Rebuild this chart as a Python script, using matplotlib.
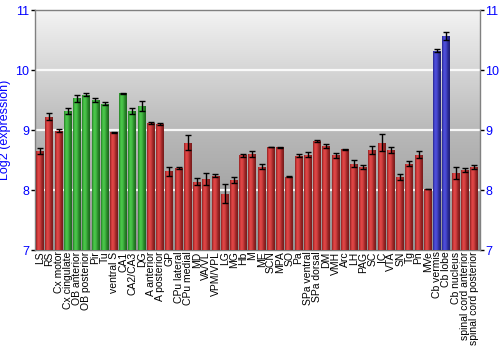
import numpy as np
import matplotlib
matplotlib.use("Agg")
import matplotlib.pyplot as plt
from matplotlib.colors import LinearSegmentedColormap, to_rgb

plt.rcParams['font.family'] = ['Liberation Sans', 'DejaVu Sans']

# ── data ─────────────────────────────────────────────
regions = ["LS", "RS", "Cx motor", "Cx cingulate", "OB anterior", "OB posterior",
           "Pir", "Tu", "ventral S", "CA1", "CA2/CA3", "DG", "A anterior",
           "A posterior", "GP", "CPu lateral", "CPu medial", "MD", "VA/VL",
           "VPM/VPL", "LG", "MG", "Hb", "M", "ME", "SCN", "MPA", "SO", "Pa",
           "SPa ventral", "SPa dorsal", "DM", "VMH", "Arc", "LH", "PAG", "SC",
           "IC", "VTA", "SN", "Tg", "Pn", "MVe", "Cb vermis", "Cb lobe",
           "Cb nucleus", "spinal cord anterior", "spinal cord posterior"]
expression = [8.65, 9.22, 8.99, 9.32, 9.53, 9.59, 9.50, 9.44, 8.96, 9.61,
              9.32, 9.40, 9.11, 9.10, 8.31, 8.36, 8.79, 8.14, 8.19, 8.24,
              7.94, 8.16, 8.58, 8.60, 8.39, 8.72, 8.71, 8.22, 8.57, 8.59,
              8.82, 8.73, 8.58, 8.68, 8.44, 8.38, 8.67, 8.79, 8.67, 8.22,
              8.44, 8.59, 8.02, 10.32, 10.57, 8.29, 8.33, 8.39]
errors = [0.05, 0.06, 0.03, 0.05, 0.055, 0.03, 0.03, 0.02, 0.015, 0.005,
          0.05, 0.08, 0.017, 0.02, 0.07, 0.017, 0.125, 0.064, 0.10, 0.022,
          0.16, 0.05, 0.028, 0.05, 0.04, 0.005, 0.005, 0.01, 0.025, 0.047,
          0.015, 0.033, 0.045, 0.01, 0.06, 0.033, 0.064, 0.147, 0.055, 0.055,
          0.04, 0.06, 0.005, 0.025, 0.07, 0.10, 0.033, 0.033]
# r = red, g = green, b = blue
groups = list("rrrggggg" "rggg" "rrrrr" "rrrrrrrrrrrrrrrrrrrrrrrrrr" "bb" "rrr")

colors = {'r': '#b52b2b', 'g': '#2f9e2f', 'b': '#3232b0'}

# ── plot ─────────────────────────────────────────────
fig = plt.figure(figsize=(5, 3.5), dpi=100)
ax = fig.add_axes([0.07, 0.2857, 0.89, 0.6857])

x = np.arange(len(regions))

# background gradient
bg = np.linspace(0, 1, 256).reshape(-1, 1)
bg_cmap = LinearSegmentedColormap.from_list('bg', ['#f3f3f3', '#b9b9b9', '#929292'])
ax.imshow(bg, cmap=bg_cmap, aspect='auto', extent=[0, 1, 0, 1],
          transform=ax.transAxes, zorder=0)

for yv in [8, 9, 10]:
    ax.axhline(yv, color='white', linewidth=1.6, alpha=0.9, zorder=1)

bars = ax.bar(x, np.array(expression) - 7, bottom=7, width=0.86,
              color=[colors[g] for g in groups], zorder=2, linewidth=0)

# cylinder-like shading on each bar
shade = np.array([0.8, 1.15, 1.05, 0.85, 0.65])
for b, g in zip(bars, groups):
    base = np.array(to_rgb(colors[g]))
    cols = [tuple(np.clip(base * s + (0.08 if s > 1 else 0), 0, 1)) for s in shade]
    cm = LinearSegmentedColormap.from_list('s', cols)
    x0, y0 = b.get_x(), b.get_y()
    im = ax.imshow(np.linspace(0, 1, 64).reshape(1, -1), cmap=cm, aspect='auto',
                   extent=[x0, x0 + b.get_width(), y0, y0 + b.get_height()],
                   zorder=3)
    im.set_clip_path(b)

ax.errorbar(x, expression, yerr=errors, fmt='none', ecolor='black',
            elinewidth=1, capsize=2, capthick=1, zorder=4)

ax.set_xlim(-0.55, 47.65)
ax.set_ylim(7, 11)
ax.set_yticks([7, 8, 9, 10, 11])
ax.set_xticks(x)
ax.set_xticklabels(regions, rotation=90, fontsize=7.5)
ax.tick_params(axis='x', length=0, pad=1)
ax.tick_params(axis='y', labelcolor='#0000ff', labelsize=9, length=3, pad=1,
               right=True, labelright=True, width=1)
ax.set_ylabel('Log2 (expression)', color='#0000ff', fontsize=9, labelpad=3)

for s in ax.spines.values():
    s.set_color('#808080')
    s.set_linewidth(1)

fig.savefig("out.png", dpi=100)
